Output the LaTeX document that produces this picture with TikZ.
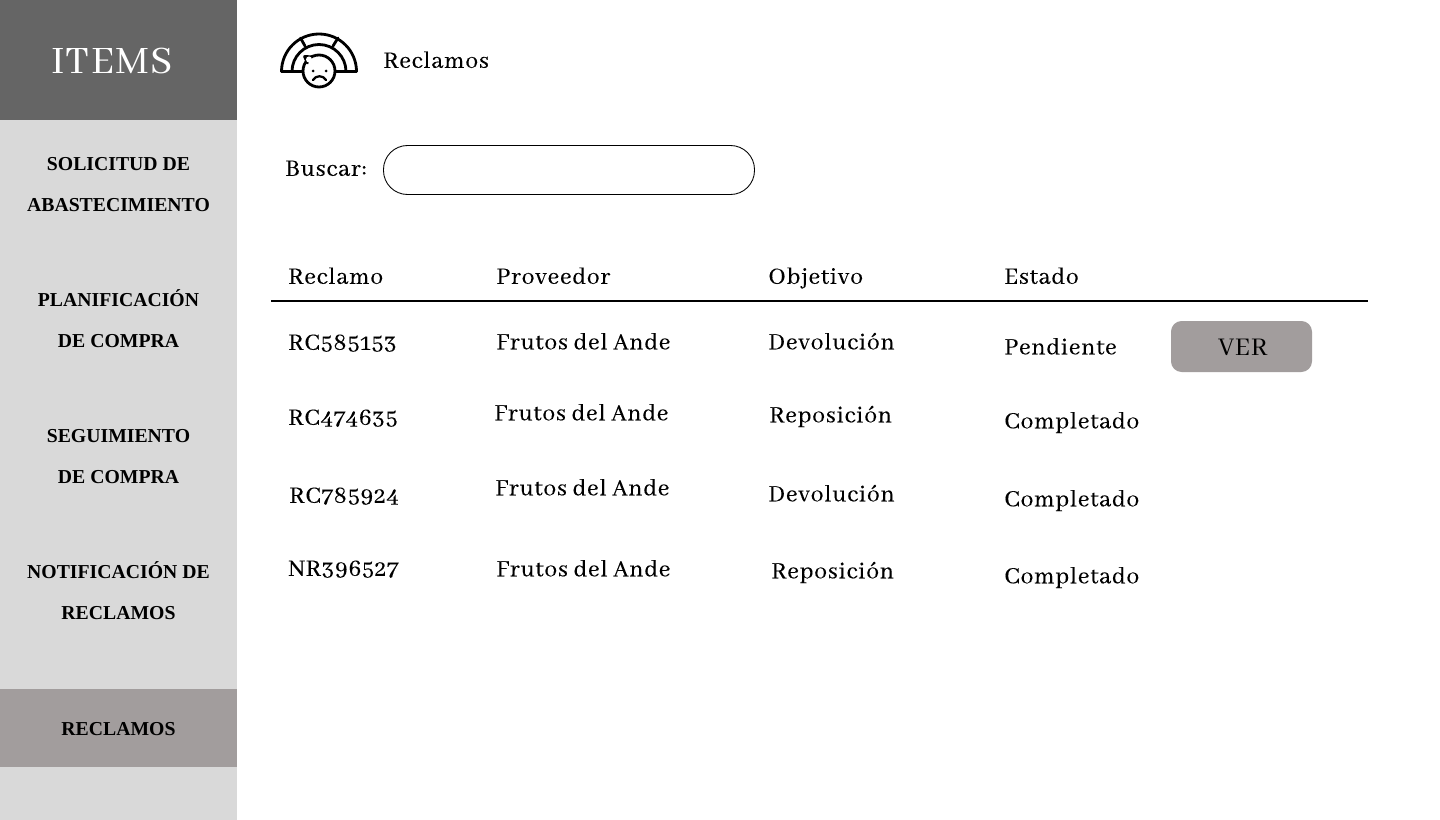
\documentclass[tikz,border=0pt]{standalone}
\usepackage{fontspec}
\setmainfont{Abhaya Libre}[Numbers=OldStyle]
\newfontfamily\boldf{Liberation Serif}[BoldFont={Liberation Serif Bold}]
\definecolor{dark}{HTML}{656565}
\definecolor{side}{HTML}{D9D9D9}
\definecolor{sel}{HTML}{A29D9D}
\tikzset{
 x=0.75pt,y=-0.75pt,
 cell/.style={anchor=base west,inner sep=0pt,yshift=0.7pt,font=\fontsize{19.2}{21}\selectfont\addfontfeature{LetterSpace=3,FakeBold=0.15}},
 menu/.style={anchor=base,inner sep=0pt,font=\fontsize{14.8}{18}\selectfont\boldf\bfseries},
 band/.style={fill=#1,draw=none},
 ic/.style={draw=black,line width=2.1pt,line cap=round,line join=round,fill=none},
}
\begin{document}
\begin{tikzpicture}
\useasboundingbox (0,0) rectangle (1440,820);
\fill[white] (0,0) rectangle (1440,820);
\path[band=side] (0,120) rectangle (237,820);
\path[band=dark] (0,0) rectangle (237,120);
\path[band=sel] (0,689) rectangle (237,767);
\node[anchor=base,inner sep=0pt,text=white,font=\fontsize{32}{34}\selectfont\addfontfeature{LetterSpace=3}] (title) at (112,74) {ITEMS};
\node[menu] (m1a) at (118.5,171) {SOLICITUD DE};
\node[menu] (m1b) at (118.5,212) {ABASTECIMIENTO};
\node[menu] (m2a) at (118.5,306) {PLANIFICACIÓN};
\node[menu] (m2b) at (118.5,347) {DE COMPRA};
\node[menu] (m3a) at (118.5,442) {SEGUIMIENTO};
\node[menu] (m3b) at (118.5,483) {DE COMPRA};
\node[menu] (m4a) at (118.5,578) {NOTIFICACIÓN DE};
\node[menu] (m4b) at (118.5,619) {RECLAMOS};
\node[menu] (m5) at (118.5,735) {RECLAMOS};
% icon
\draw[ic] (281.5,71.5) arc[start angle=180,end angle=360,radius=37.5];
\draw[ic] (281.5,71.5) -- (356.5,71.5);
\draw[ic] (292,71.5) arc[start angle=180,end angle=360,radius=27];
\draw[ic] (300.5,38) -- (305,46);
\draw[ic] (338,38) -- (333,46);
\draw[ic,fill=white] (319,71) circle[radius=16];
\draw[ic,fill=white] (307.5,63) -- (304.5,56.5) -- (312,56.8);
\fill[white] (309,59.5) circle[radius=3];
\fill (313,71) circle[radius=1.5];
\fill (326,71) circle[radius=1.5];
\draw[ic,line width=1.7pt] (313,80) .. controls (316,75) and (323,75) .. (326,80);
\node[cell] (head) at (383,68.7) {Reclamos};
\node[cell] (buscar) at (285,176.7) {Buscar:};
\draw[black,line width=0.65pt,rounded corners=18pt] (383.5,145.5) rectangle (754.5,194.5);
\node[cell] (h1) at (288,284.7) {Reclamo};
\node[cell] (h2) at (496,284.7) {Proveedor};
\node[cell] (h3) at (768,284.7) {Objetivo};
\node[cell] (h4) at (1004,284.7) {Estado};
\coordinate (l1) at (271,301);
\coordinate (l2) at (1368,301);
\draw[black,line width=1.5pt] (l1) -- (l2);
\node[cell] (a1) at (288,350.7) {RC585153};
\node[cell] (b1) at (496,350.2) {Frutos del Ande};
\node[cell] (c1) at (768,350.2) {Devolución};
\node[cell] (d1) at (1004,355.2) {Pendiente};
\node[fill=sel,rounded corners=8,minimum width=105.75pt,minimum height=38.25pt,inner sep=0pt] (ver) at (1241.5,346.5) {};
\node[anchor=base,inner sep=0pt,font=\fontsize{21}{23}\selectfont\addfontfeature{LetterSpace=3}] (vert) at (1243,355.5) {VER};
\node[cell] (a2) at (288,425.7) {RC474635};
\node[cell] (b2) at (494,421.2) {Frutos del Ande};
\node[cell] (c2) at (769,423.2) {Reposición};
\node[cell] (d2) at (1004,429.2) {Completado};
\node[cell] (a3) at (289,503.7) {RC785924};
\node[cell] (b3) at (495,496.2) {Frutos del Ande};
\node[cell] (c3) at (768,502.2) {Devolución};
\node[cell] (d3) at (1004,507.2) {Completado};
\node[cell] (a4) at (288,576.7) {NR396527};
\node[cell] (b4) at (496,577.2) {Frutos del Ande};
\node[cell] (c4) at (771,579.2) {Reposición};
\node[cell] (d4) at (1004,584.2) {Completado};
\end{tikzpicture}
\end{document}
